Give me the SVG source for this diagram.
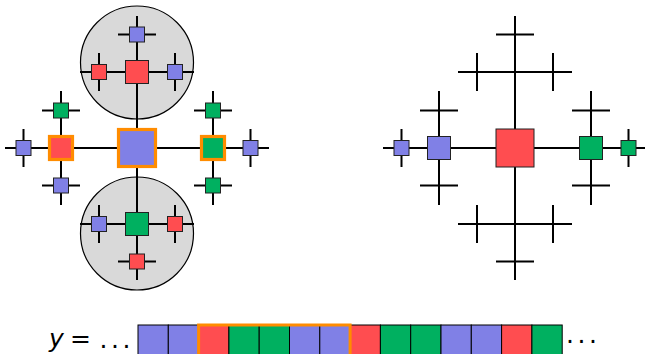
<svg xmlns="http://www.w3.org/2000/svg" width="645" height="354" viewBox="0 0 645 354">
<style>
.ln{stroke:#000;stroke-width:2;fill:none;stroke-linecap:butt}
.cir{fill:#d9d9d9;stroke:#000;stroke-width:1.2}
.n{stroke:#222;stroke-width:1}
.b{fill:#8080e6}
.r{fill:#ff4d50}
.g{fill:#00b060}
.hl{stroke:#ff8c00;stroke-width:3.2}
.cell{stroke:#000;stroke-width:1}
.t{font-family:"DejaVu Sans",sans-serif;font-size:25px;fill:#000}
</style>
<rect width="645" height="354" fill="#fff"/>
<g id="circles">
<circle class="cir" cx="137" cy="62.5" r="56.5"/>
<circle class="cir" cx="137" cy="233.5" r="56.5"/>
</g>
<g id="connectors">
<path class="ln" d="M5 148H269M137 16V280"/>
<path class="ln" d="M80 72H194M99 53V91M175 53V91M118 34.5H156"/>
<path class="ln" d="M80 224H194M99 205V243M175 205V243M118 261.5H156"/>
<path class="ln" d="M61 91V205M42 110.5H80M42 185.5H80M23.5 129V167"/>
<path class="ln" d="M213 91V205M194 110.5H232M194 185.5H232M250.5 129V167"/>
<path class="ln" d="M383 148H647M515 16V280"/>
<path class="ln" d="M458 72H572M477 53V91M553 53V91M496 34.5H534"/>
<path class="ln" d="M458 224H572M477 205V243M553 205V243M496 261.5H534"/>
<path class="ln" d="M439 91V205M420 110.5H458M420 185.5H458M401.5 129V167"/>
<path class="ln" d="M591 91V205M572 110.5H610M572 185.5H610M628.5 129V167"/>
</g>
<g id="left-tree">
<g id="l-center"><rect class="b hl" x="118.5" y="129.5" width="37" height="37"/></g>
<g id="l-top"><rect class="n r" x="125.5" y="60.5" width="23" height="23"/></g>
<g id="l-top-l"><rect class="n r" x="91.5" y="64.5" width="15" height="15"/></g>
<g id="l-top-r"><rect class="n b" x="167.5" y="64.5" width="15" height="15"/></g>
<g id="l-top-t"><rect class="n b" x="129.5" y="27" width="15" height="15"/></g>
<g id="l-left"><rect class="r hl" x="49.5" y="136.5" width="23" height="23"/></g>
<g id="l-left-t"><rect class="n g" x="53.5" y="103" width="15" height="15"/></g>
<g id="l-left-b"><rect class="n b" x="53.5" y="178" width="15" height="15"/></g>
<g id="l-left-l"><rect class="n b" x="16" y="140.5" width="15" height="15"/></g>
<g id="l-right"><rect class="g hl" x="201.5" y="136.5" width="23" height="23"/></g>
<g id="l-right-t"><rect class="n g" x="205.5" y="103" width="15" height="15"/></g>
<g id="l-right-b"><rect class="n g" x="205.5" y="178" width="15" height="15"/></g>
<g id="l-right-r"><rect class="n b" x="243" y="140.5" width="15" height="15"/></g>
<g id="l-bot"><rect class="n g" x="125.5" y="212.5" width="23" height="23"/></g>
<g id="l-bot-l"><rect class="n b" x="91.5" y="216.5" width="15" height="15"/></g>
<g id="l-bot-r"><rect class="n r" x="167.5" y="216.5" width="15" height="15"/></g>
<g id="l-bot-b"><rect class="n r" x="129.5" y="254" width="15" height="15"/></g>
</g>
<g id="right-tree">
<g id="r-center"><rect class="n r" x="496" y="129" width="38" height="38"/></g>
<g id="r-left"><rect class="n b" x="427.5" y="136.5" width="23" height="23"/></g>
<g id="r-left-l"><rect class="n b" x="394" y="140.5" width="15" height="15"/></g>
<g id="r-right"><rect class="n g" x="579.5" y="136.5" width="23" height="23"/></g>
<g id="r-right-r"><rect class="n g" x="621" y="140.5" width="15" height="15"/></g>
</g>
<g id="sequence">
<rect class="cell b" x="138" y="325" width="30.3" height="32"/>
<rect class="cell b" x="168.3" y="325" width="30.3" height="32"/>
<rect class="cell r" x="198.6" y="325" width="30.3" height="32"/>
<rect class="cell g" x="228.9" y="325" width="30.3" height="32"/>
<rect class="cell g" x="259.2" y="325" width="30.3" height="32"/>
<rect class="cell b" x="289.5" y="325" width="30.3" height="32"/>
<rect class="cell b" x="319.8" y="325" width="30.3" height="32"/>
<rect class="cell r" x="350.1" y="325" width="30.3" height="32"/>
<rect class="cell g" x="380.4" y="325" width="30.3" height="32"/>
<rect class="cell g" x="410.7" y="325" width="30.3" height="32"/>
<rect class="cell b" x="441" y="325" width="30.3" height="32"/>
<rect class="cell b" x="471.3" y="325" width="30.3" height="32"/>
<rect class="cell r" x="501.6" y="325" width="30.3" height="32"/>
<rect class="cell g" x="531.9" y="325" width="30.3" height="32"/>
<rect x="198.6" y="325" width="151.5" height="34" fill="none" stroke="#ff8c00" stroke-width="3"/>
<text class="t" x="49" y="347" font-style="italic">y</text>
<text class="t" x="70" y="347">=</text>
<text class="t" x="99.5 111 122.5" y="347.5">...</text>
<text class="t" x="566 577.5 589" y="343">...</text>
</g>
</svg>
